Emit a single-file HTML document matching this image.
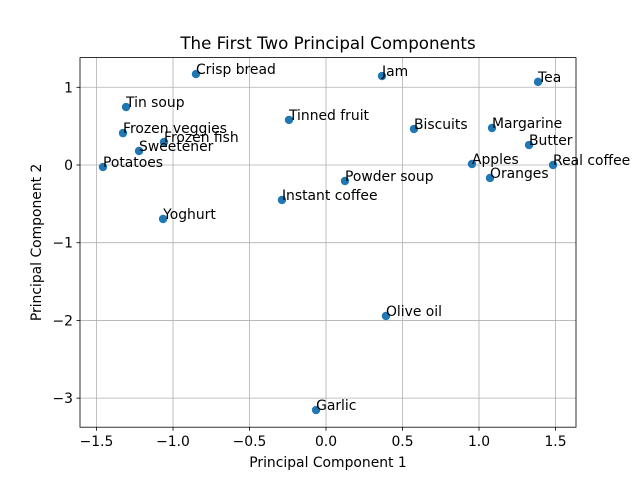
<!DOCTYPE html>
<html><head><meta charset="utf-8"><style>body{margin:0;background:#fff}svg{display:block}text{font-family:"DejaVu Sans","Liberation Sans",sans-serif}</style></head>
<body>
<svg id="chart" width="640" height="480" xmlns="http://www.w3.org/2000/svg"></svg>
<script>
const labels=["Crisp bread","Jam","Tea","Tin soup","Frozen veggies","Frozen fish","Sweetener","Potatoes","Tinned fruit","Biscuits","Margarine","Butter","Apples","Real coffee","Oranges","Powder soup","Instant coffee","Yoghurt","Olive oil","Garlic"];
const pc1=[-0.85,0.366,1.386,-1.307,-1.327,-1.059,-1.222,-1.458,-0.242,0.575,1.085,1.327,0.954,1.484,1.072,0.124,-0.288,-1.065,0.392,-0.065];
const pc2=[1.17,1.145,1.07,0.746,0.41,0.296,0.18,-0.026,0.58,0.463,0.476,0.257,0.013,0,-0.167,-0.206,-0.45,-0.695,-1.943,-3.153];
const xTicks=[-1.5,-1.0,-0.5,0.0,0.5,1.0,1.5];
const yTicks=[1,0,-1,-2,-3];
const L=80,R=576,T=57.6,B=427.2;
const xmin=-1.608,xmax=1.634,ymin=-3.374,ymax=1.382;
const sx=v=>L+(v-xmin)/(xmax-xmin)*(R-L);
const sy=v=>B-(v-ymin)/(ymax-ymin)*(B-T);
const svg=document.getElementById('chart');
const NS='http://www.w3.org/2000/svg';
function mk(tag,attrs,txt){const e=document.createElementNS(NS,tag);for(const k in attrs)e.setAttribute(k,attrs[k]);if(txt!==undefined)e.textContent=txt;svg.appendChild(e);return e;}
xTicks.forEach(t=>{const x=sx(t);
 let g=mk('line',{x1:x,x2:x,y1:T,y2:B,stroke:'#b0b0b0','stroke-width':0.8});
 
 let k=mk('line',{x1:x,x2:x,y1:B,y2:B+3.5,stroke:'#000','stroke-width':0.8});
 
 let s=t===0?'0.0':(t<0?'\u2212'+Math.abs(t).toFixed(1):t.toFixed(1));
 let tx=mk('text',{x:x,y:B+19,'font-size':13.9,'text-anchor':'middle'},s);
 });
yTicks.forEach(t=>{const y=sy(t);
 let g=mk('line',{x1:L,x2:R,y1:y,y2:y,stroke:'#b0b0b0','stroke-width':0.8});
 
 let k=mk('line',{x1:L-3.5,x2:L,y1:y,y2:y,stroke:'#000','stroke-width':0.8});
 
 let tx=mk('text',{x:L-7,y:y+5,'font-size':13.9,'text-anchor':'end'},t<0?'\u2212'+Math.abs(t):String(t));
 });
labels.forEach((n,i)=>{const x=sx(pc1[i]),y=sy(pc2[i]);
 let c=mk('circle',{cx:x,cy:y,r:4.2,fill:'#1f77b4'});
 
 let t=mk('text',{x:x,y:y,'font-size':13.9,fill:'#000'},n);
 });
let f=mk('rect',{x:L,y:T,width:R-L,height:B-T,fill:'none',stroke:'#000','stroke-width':0.8});

let ti=mk('text',{x:(L+R)/2,y:49,'font-size':16.7,'text-anchor':'middle'},'The First Two Principal Components');

let xl=mk('text',{x:(L+R)/2,y:467,'font-size':13.9,'text-anchor':'middle'},'Principal Component 1');

let yl=mk('text',{x:0,y:0,'font-size':13.9,'text-anchor':'middle',transform:'translate(41,'+((T+B)/2)+') rotate(-90)'},'Principal Component 2');

</script>
</body></html>
